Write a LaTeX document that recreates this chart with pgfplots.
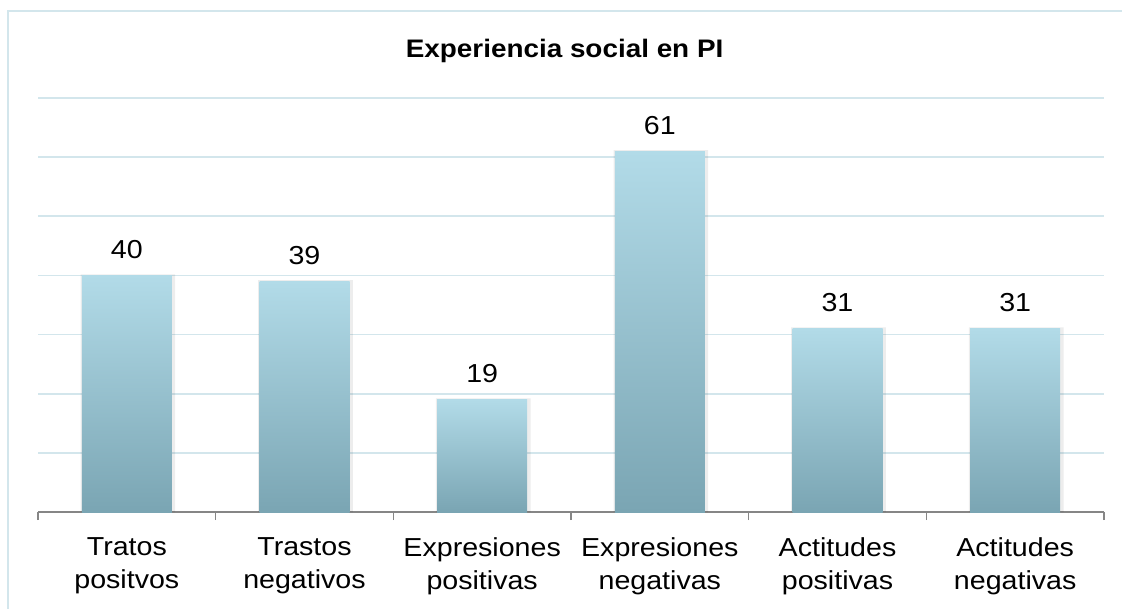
\documentclass[border=0pt]{standalone}
\usepackage{fontspec}
\setmainfont{Liberation Sans}[FakeStretch=1.1]
\usepackage{pgfplots}
\pgfplotsset{compat=1.18}
\definecolor{barT}{HTML}{B2DBE8}
\definecolor{barB}{HTML}{7AA5B3}
\definecolor{gridC}{HTML}{D3E6EC}
\definecolor{axisC}{HTML}{868686}
\newcommand{\lblfont}{\fontsize{19.5}{24.5}\selectfont}
\pgfplotsset{
  shadebar/.style={draw=none, top color=barT, bottom color=barB, bar shift=0pt, bar width=67.5pt,
    nodes near coords, nodes near coords style={font=\lblfont, anchor=base, yshift=12.75pt, text=black}},
  shadowbar/.style={fill=black, fill opacity=0.07, draw=none, bar shift=0.8pt, bar width=71pt},
}
\begin{document}
\begin{tikzpicture}
\useasboundingbox (-28.5pt,-72pt) rectangle (813pt,384pt);
\draw[gridC, line width=1pt] (-22.5pt,-120pt) rectangle (900pt,375.75pt);
\begin{axis}[
  at={(0pt,0pt)}, anchor=south west, scale only axis,
  width=799.5pt, height=310.5pt, clip=false,
  xmin=-0.5, xmax=5.5, ymin=0, ymax=70,
  axis lines*=left,
  y axis line style={draw=none}, ytick style={draw=none},
  ytick={10,20,...,70}, yticklabels={},
  ymajorgrids, grid style={gridC, line width=1.2pt},
  x axis line style={axisC, line width=1.1pt},
  xtick={0,...,5}, major x tick style={draw=none},
  minor xtick={-0.5,0.5,...,5.5}, minor x tick style={axisC, line width=1.1pt},
  minor tick length=6pt, major tick length=0pt, tick align=outside,
  xticklabels={{Tratos\\positvos},{Trastos\\negativos},{Expresiones\\positivas},
               {Expresiones\\negativas},{Actitudes\\positivas},{Actitudes\\negativas}},
  xticklabel style={align=center, font=\lblfont, anchor=north, inner sep=0pt, yshift=-19pt},
  /pgf/number format/assume math mode=true,
  ybar,
]
% soft shadow behind the bars
\addplot[shadowbar] coordinates {(0,40.2) (1,39.2) (2,19.2) (3,61.2) (4,31.2) (5,31.2)};
% one plot per bar so each bar gets its own gradient
\addplot[shadebar] coordinates {(0,40)};
\addplot[shadebar] coordinates {(1,39)};
\addplot[shadebar] coordinates {(2,19)};
\addplot[shadebar] coordinates {(3,61)};
\addplot[shadebar] coordinates {(4,31)};
\addplot[shadebar] coordinates {(5,31)};
\node[font=\bfseries\fontsize{19}{22}\selectfont, anchor=base]
  at (axis description cs:0.494,1.099) {Experiencia social en PI};
\end{axis}
\end{tikzpicture}
\end{document}
